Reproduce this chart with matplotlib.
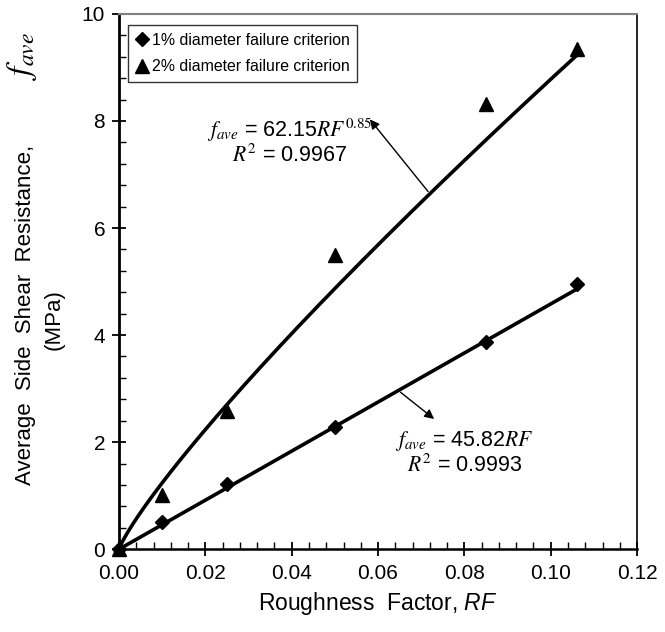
import numpy as np
import matplotlib
matplotlib.use("Agg")
import matplotlib.pyplot as plt
from matplotlib.ticker import MultipleLocator, FormatStrFormatter

plt.rcParams['font.family'] = ['Liberation Sans', 'DejaVu Sans']
plt.rcParams['mathtext.fontset'] = 'custom'
plt.rcParams['mathtext.rm'] = 'STIXGeneral'
plt.rcParams['mathtext.it'] = 'STIXGeneral:italic'
plt.rcParams['mathtext.bf'] = 'STIXGeneral:bold'
plt.rcParams['mathtext.sf'] = 'Liberation Sans:italic'

# Data
rf = [0.0, 0.01, 0.025, 0.05, 0.085, 0.106]
f1 = [0.0, 0.50, 1.22, 2.28, 3.87, 4.95]   # 1% diameter failure criterion
f2 = [0.0, 1.02, 2.58, 5.50, 8.32, 9.35]   # 2% diameter failure criterion
lin_coef = 45.82
pow_coef = 62.15
pow_exp = 0.85
labels = ["1% diameter failure criterion", "2% diameter failure criterion"]

W, H = 665, 632
fig = plt.figure(figsize=(W / 100, H / 100), dpi=100)
ax = fig.add_axes([0.179, 0.131, 0.779, 0.847])

xfit = np.linspace(0, max(rf), 200)
ax.plot(xfit, lin_coef * xfit, color='black', lw=2.6, zorder=2)
ax.plot(xfit, pow_coef * xfit ** pow_exp, color='black', lw=2.6, zorder=2)

ax.plot(rf, f1, linestyle='none', marker='D', ms=7.5, color='black', label=labels[0],
        zorder=3, clip_on=False)
ax.plot(rf, f2, linestyle='none', marker='^', ms=10, color='black', label=labels[1],
        zorder=3, clip_on=False)

ax.set_xlim(0, 0.12)
ax.set_ylim(0, 10)
ax.xaxis.set_major_locator(MultipleLocator(0.02))
ax.xaxis.set_minor_locator(MultipleLocator(0.004))
ax.yaxis.set_major_locator(MultipleLocator(2))
ax.yaxis.set_minor_locator(MultipleLocator(0.4))
ax.xaxis.set_major_formatter(FormatStrFormatter('%.2f'))
ax.tick_params(which='major', direction='inout', length=10, width=1.3, labelsize=15, colors='black')
ax.tick_params(which='minor', direction='in', length=5, width=1.0)
ax.tick_params(axis='x', which='major', pad=6)
ax.tick_params(axis='y', which='major', pad=5)

ax.spines['top'].set_color('#808080')
ax.spines['top'].set_linewidth(1.5)
ax.spines['right'].set_linewidth(1.2)
ax.spines['left'].set_linewidth(2.0)
ax.spines['bottom'].set_linewidth(1.8)

ax.set_xlabel('Roughness  Factor, $\\mathsf{RF}$', fontsize=16.5, labelpad=5)

# y-axis title (two lines, large math symbol)
fig.text(26 / W, 1 - 485 / H, 'Average  Side  Shear  Resistance, ', rotation=90,
         fontsize=16, ha='center', va='bottom')
fig.text(22 / W, 1 - 32 / H, '$f_{ave}$', rotation=90, fontsize=24, ha='center', va='top')
fig.text(54 / W, 1 - 320 / H, '(MPa)', rotation=90, fontsize=16, ha='center', va='center')

leg = ax.legend(loc='upper left', bbox_to_anchor=(0.017, 0.98), fontsize=11.4,
                frameon=True, fancybox=False, handlelength=0.8, handletextpad=0.2,
                borderpad=0.5, labelspacing=0.75, borderaxespad=0)
leg.get_frame().set_edgecolor('black')
leg.get_frame().set_linewidth(1.0)

ax.text(0.0396, 7.62, '$f_{ave}$ = 62.15$RF^{0.85}$\n$R^2$ = 0.9967', fontsize=15.5,
        ha='center', va='center', linespacing=1.05)
ax.annotate('', xy=(0.0577, 8.07), xytext=(0.072, 62.15 * 0.072 ** 0.85),
            arrowprops=dict(arrowstyle='-|>', color='black', lw=1.0, mutation_scale=14))

ax.text(0.080, 1.80, '$f_{ave}$ = 45.82$RF$\n$R^2$ = 0.9993', fontsize=15.5,
        ha='center', va='center', linespacing=1.05)
ax.annotate('', xy=(0.0735, 2.40), xytext=(0.0647, 45.82 * 0.0647),
            arrowprops=dict(arrowstyle='-|>', color='black', lw=1.0, mutation_scale=14))

fig.savefig('out.png', dpi=100)
